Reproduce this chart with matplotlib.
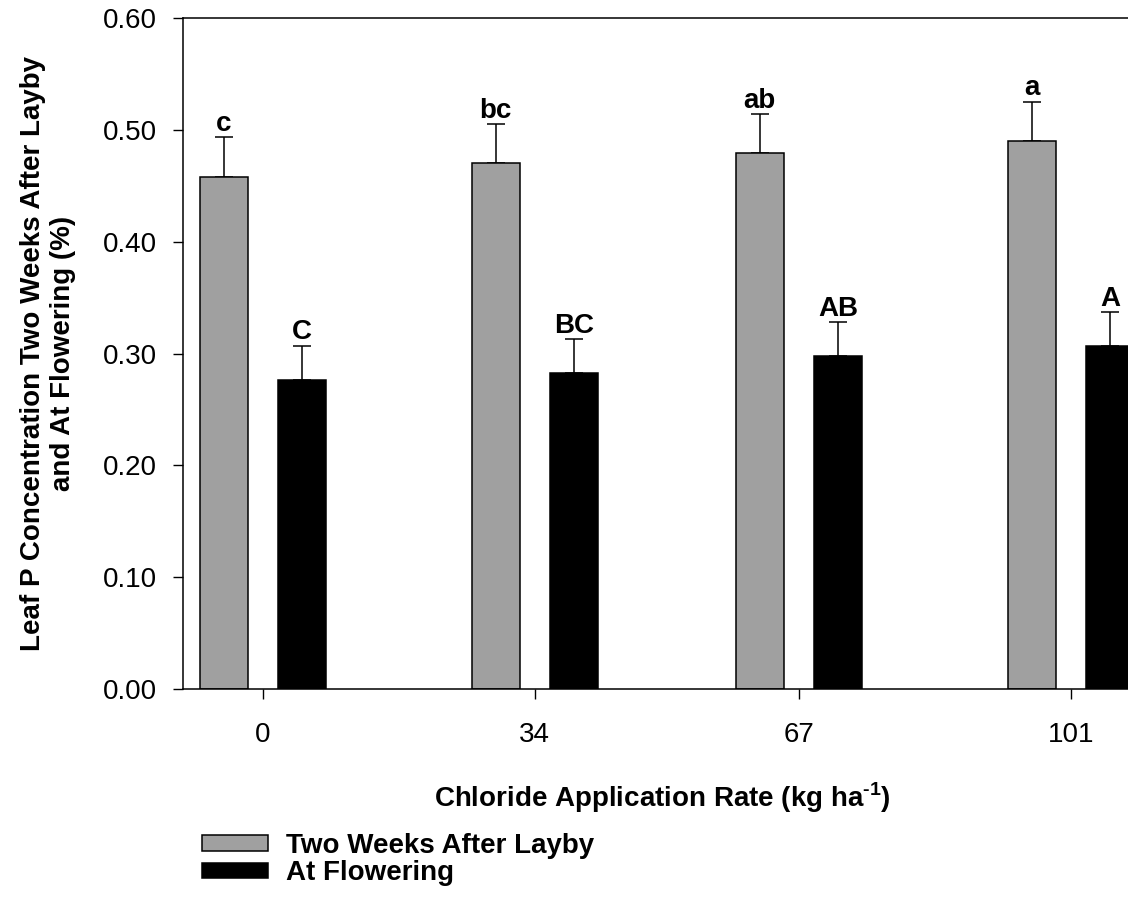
import matplotlib
matplotlib.use('Agg')
import matplotlib.pyplot as plt
from matplotlib.patches import Patch

plt.rcParams['font.family'] = ['Liberation Sans', 'DejaVu Sans']
plt.rcParams['mathtext.fontset'] = 'custom'
plt.rcParams['mathtext.rm'] = 'Liberation Sans'
plt.rcParams['mathtext.bf'] = 'Liberation Sans:bold'

# chloride rates (kg/ha) and leaf P (%)
rates = [0, 34, 67, 101]
layby = [0.458, 0.470, 0.479, 0.490]
layby_se = [0.035, 0.035, 0.035, 0.035]
flower = [0.276, 0.283, 0.298, 0.307]
flower_se = [0.031, 0.030, 0.030, 0.030]
layby_letters = ['c', 'bc', 'ab', 'a']
flower_letters = ['C', 'BC', 'AB', 'A']

W, H = 1128, 897
fig = plt.figure(figsize=(W / 100, H / 100), dpi=100)
ax = fig.add_axes([182.7 / W, 207.7 / H, (1143 - 182.7) / W, (879.3 - 207.7) / H])

bw = 6.0     # bar width in kg/ha units
off = 4.9    # half distance between the pair
gray = '#a0a0a0'

xl = [r - off for r in rates]
xf = [r + off for r in rates]
ax.bar(xl, layby, width=bw, color=gray, edgecolor='black', linewidth=1.1, zorder=2)
ax.bar(xf, flower, width=bw, color='black', edgecolor='black', linewidth=1.1, zorder=2)
ax.errorbar(xl, layby, yerr=[[0] * 4, layby_se], fmt='none', ecolor='black',
            elinewidth=1.1, capsize=6.8, capthick=1.1, zorder=1)
ax.errorbar(xf, flower, yerr=[[0] * 4, flower_se], fmt='none', ecolor='black',
            elinewidth=1.1, capsize=6.8, capthick=1.1, zorder=1)

for x, y, e, t in zip(xl, layby, layby_se, layby_letters):
    ax.annotate(t, (x, y + e), xytext=(0, 4.5), textcoords='offset points',
                ha='center', va='baseline', fontsize=20, fontweight='bold')
for x, y, e, t in zip(xf, flower, flower_se, flower_letters):
    ax.annotate(t, (x, y + e), xytext=(0, 4.5), textcoords='offset points',
                ha='center', va='baseline', fontsize=20, fontweight='bold')

ax.set_xlim(-10, 110)
ax.set_ylim(0, 0.60)
ax.set_xticks(rates)
ax.set_xticklabels([str(r) for r in rates])
ax.set_yticks([0, 0.1, 0.2, 0.3, 0.4, 0.5, 0.6])
ax.set_yticklabels(['%.2f' % v for v in [0, 0.1, 0.2, 0.3, 0.4, 0.5, 0.6]])
ax.tick_params(axis='both', direction='out', length=7.2, width=1.0, labelsize=20)
ax.tick_params(axis='y', pad=11.5)
ax.tick_params(axis='x', pad=16)
for s in ax.spines.values():
    s.set_linewidth(1.1)

ax.set_xlabel('Chloride Application Rate (kg ha$^{\\mathbf{\u20101}}$)',
              fontsize=20, fontweight='bold', labelpad=24)
ax.set_ylabel('Leaf P Concentration Two Weeks After Layby\nand At Flowering (%)',
              fontsize=20, fontweight='bold', labelpad=19)

handles = [Patch(facecolor=gray, edgecolor='black', linewidth=1.1),
           Patch(facecolor='black', edgecolor='black', linewidth=1.1)]
fig.legend(handles, ['Two Weeks After Layby', 'At Flowering'],
           loc='upper left', bbox_to_anchor=(201.7 / W, 1 - 833 / H),
           frameon=False, borderpad=0, borderaxespad=0,
           handlelength=2.4, handleheight=0.47, handletextpad=0.64,
           labelspacing=0.05, prop={'size': 20, 'weight': 'bold'})

fig.savefig('out.png', dpi=100)
